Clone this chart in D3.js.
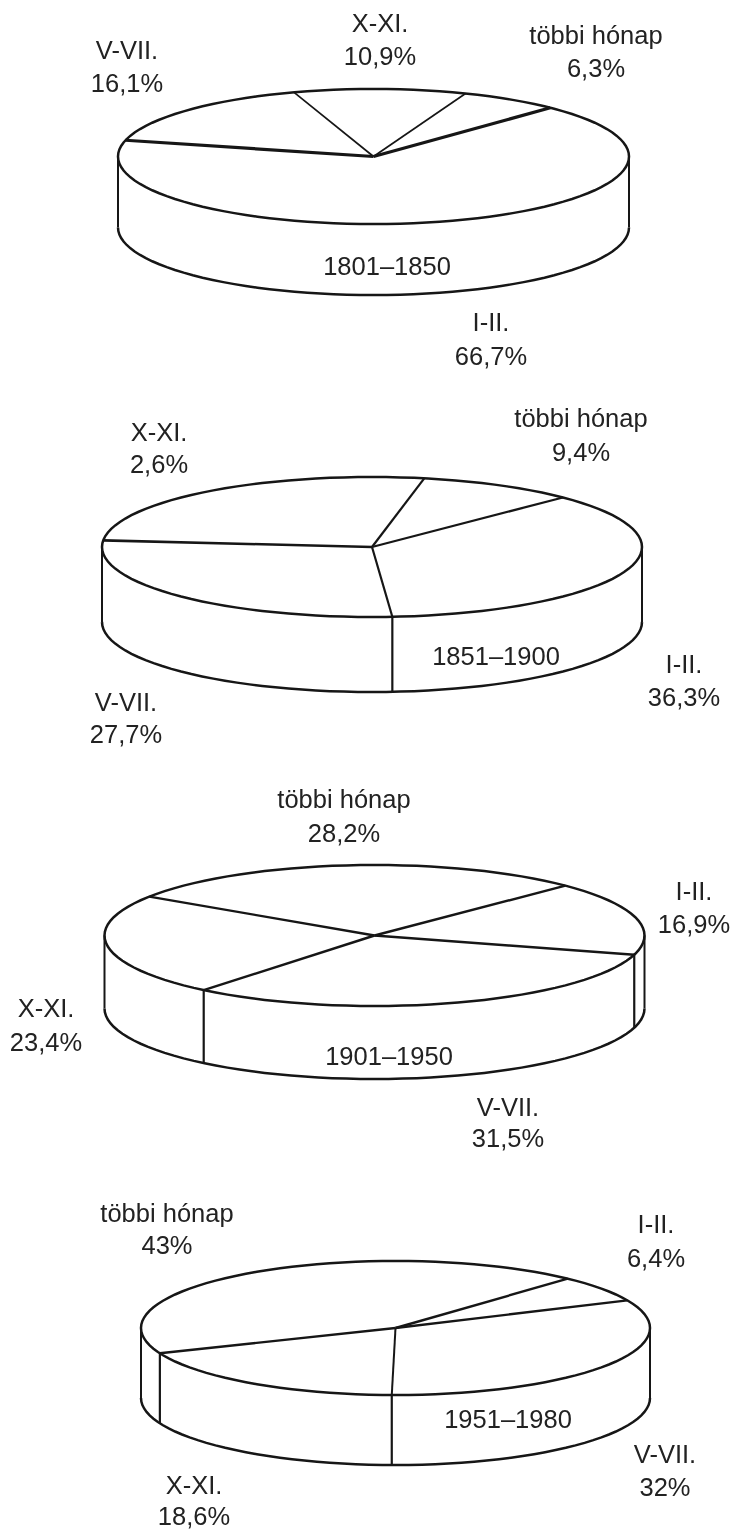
<!DOCTYPE html>
<html>
<head>
<meta charset="utf-8">
<script src="https://cdn.jsdelivr.net/npm/d3@7"></script>
<style>
  html, body { margin: 0; padding: 0; background: #fff; }
  svg { display: block; filter: blur(0.45px); }
  text { font-family: "Liberation Sans", Arial, sans-serif; font-size: 25.5px; fill: #222; text-anchor: middle; }
</style>
</head>
<body>
<div id="chart"></div>
<script>
const months = ["I-II.", "V-VII.", "X-XI.", "többi hónap"];
const periods = ["1801–1850", "1851–1900", "1901–1950", "1951–1980"];

const shares1801 = [66.7, 16.1, 10.9, 6.3];
// the print says 2,6% for X-XI but the drawn slice is what is left of 100, so 26.6
const shares1851 = [36.3, 27.7, 26.6, 9.4];
const shares1901 = [16.9, 31.5, 23.4, 28.2];
const shares1951 = [6.4, 32, 18.6, 43];

const printed1801 = ["66,7%", "16,1%", "10,9%", "6,3%"];
const printed1851 = ["36,3%", "27,7%", "2,6%", "9,4%"];
const printed1901 = ["16,9%", "31,5%", "23,4%", "28,2%"];
const printed1951 = ["6,4%", "32%", "18,6%", "43%"];

const allShares = [shares1801, shares1851, shares1901, shares1951];
const allPrinted = [printed1801, printed1851, printed1901, printed1951];

// placement of each disc; labels are [x, name baseline, percent baseline] in slice order
const layouts = [
  { cx: 373.5, cy: 156.5, rx: 255.5, ry: 67.5, depth: 71, start: 43.8, edges: [3.2, 3.2, 1.7, 1.7],
    title: [387, 275],
    labels: [[491, 331, 365], [127, 59, 92], [380, 32, 65], [596, 44, 77]] },
  { cx: 372, cy: 547, rx: 270, ry: 70, depth: 75, start: 45, edges: [2.2, 2.2, 2.6, 2.2],
    title: [496, 665],
    labels: [[684, 673, 706], [126, 711, 743], [159, 441, 473], [581, 427, 461]] },
  { cx: 374.5, cy: 935.5, rx: 270, ry: 70.5, depth: 73, start: 45, edges: [2.4, 2.4, 2.4, 2.4],
    title: [389, 1065],
    labels: [[694, 900, 933], [508, 1116, 1147], [46, 1017, 1051], [344, 808, 842]] },
  { cx: 395.5, cy: 1328, rx: 254.5, ry: 67, depth: 70, start: 42.6, edges: [2.4, 2.4, 2, 2.4],
    title: [508, 1428],
    labels: [[656, 1233, 1267], [665, 1463, 1496], [194, 1494, 1525], [167, 1222, 1254]] }
];

const svg = d3.select("#chart")
  .append("svg")
  .attr("width", 734)
  .attr("height", 1530);

const ink = "#161616";
const rad = Math.PI / 180;

layouts.forEach((l, i) => {
  const g = svg.append("g");

  const x = d3.scaleLinear().domain([-1, 1]).range([l.cx - l.rx, l.cx + l.rx]);
  const y = d3.scaleLinear().domain([-1, 1]).range([l.cy + l.ry, l.cy - l.ry]);

  const pie = d3.pie()
    .sort(null)
    .startAngle(l.start * rad)
    .endAngle(l.start * rad + 2 * Math.PI);
  const slices = pie(allShares[i]);

  const rim = d3.line()
    .x(a => x(Math.sin(a)))
    .y(a => y(Math.cos(a)));
  const lowerRim = d3.line()
    .x(a => x(Math.sin(a)))
    .y(a => y(Math.cos(a)) + l.depth);

  // top ellipse
  g.append("path")
    .attr("d", rim(d3.range(0, 361, 3).map(a => a * rad)) + "Z")
    .attr("fill", "none")
    .attr("stroke", ink)
    .attr("stroke-width", 2.5);

  // front edge of the base
  g.append("path")
    .attr("d", lowerRim(d3.range(90, 271, 3).map(a => a * rad)))
    .attr("fill", "none")
    .attr("stroke", ink)
    .attr("stroke-width", 2.5);

  // the two silhouette sides
  g.selectAll("line.side")
    .data([-1, 1])
    .join("line")
    .attr("class", "side")
    .attr("x1", d => x(d))
    .attr("x2", d => x(d))
    .attr("y1", y(0))
    .attr("y2", y(0) + l.depth)
    .attr("stroke", ink)
    .attr("stroke-width", 2);

  // slice boundaries on the top face
  g.selectAll("line.edge")
    .data(slices)
    .join("line")
    .attr("class", "edge")
    .attr("x1", x(0))
    .attr("y1", y(0))
    .attr("x2", d => x(Math.sin(d.startAngle)))
    .attr("y2", d => y(Math.cos(d.startAngle)))
    .attr("stroke", ink)
    .attr("stroke-width", (d, j) => l.edges[j]);

  // boundaries that come round the front run down the side
  g.selectAll("line.drop")
    .data(slices.filter(d => Math.cos(d.startAngle) < 0))
    .join("line")
    .attr("class", "drop")
    .attr("x1", d => x(Math.sin(d.startAngle)))
    .attr("x2", d => x(Math.sin(d.startAngle)))
    .attr("y1", d => y(Math.cos(d.startAngle)))
    .attr("y2", d => y(Math.cos(d.startAngle)) + l.depth)
    .attr("stroke", ink)
    .attr("stroke-width", 2.2);

  g.append("text")
    .attr("x", l.title[0])
    .attr("y", l.title[1])
    .text(periods[i]);

  months.forEach((m, j) => {
    const [lx, y1, y2] = l.labels[j];
    g.append("text").attr("x", lx).attr("y", y1).text(m);
    g.append("text").attr("x", lx).attr("y", y2).text(allPrinted[i][j]);
  });
});
</script>
</body>
</html>
